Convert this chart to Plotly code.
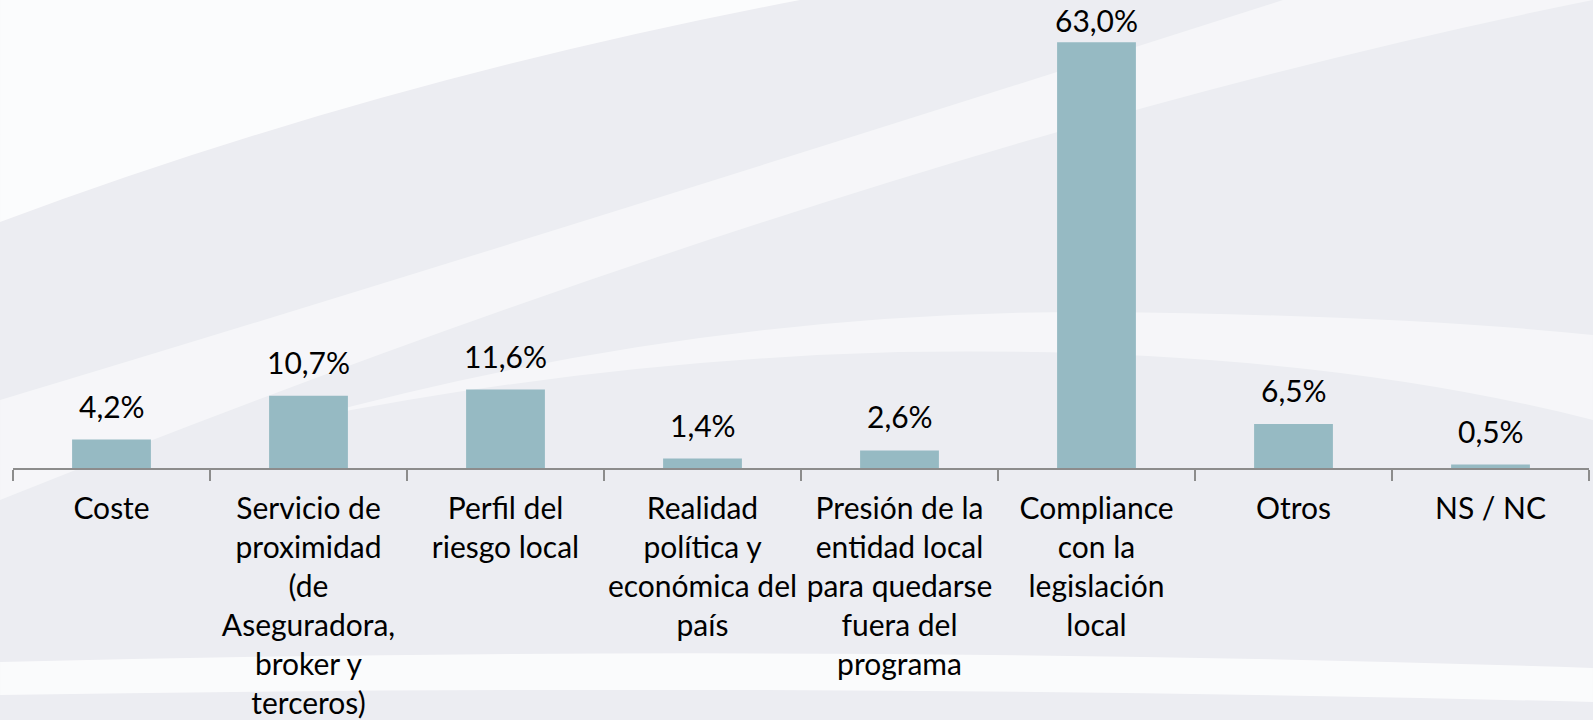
import plotly.graph_objects as go

categories = [
    "Coste",
    "Servicio de<br>proximidad<br>(de<br>Aseguradora,<br>broker y<br>terceros)",
    "Perfil del<br>riesgo local",
    "Realidad<br>política y<br>económica del<br>país",
    "Presión de la<br>entidad local<br>para quedarse<br>fuera del<br>programa",
    "Compliance<br>con la<br>legislación<br>local",
    "Otros",
    "NS / NC",
]
values = [4.2, 10.7, 11.6, 1.4, 2.6, 63.0, 6.5, 0.5]

W, H = 1593, 720
ML, MR, MT, MB = 13, 4, 22, 252
PW, PH = W - ML - MR, H - MT - MB
YMAX = 66

FONT = "Lato"
FSIZE = 30
BAR_COLOR = "#96BAC3"
BG = "#ECEDF2"


def px(x, y):
    """pixel position on the page -> paper coordinates"""
    return (x - ML) / PW, (H - MB - y) / PH


def path(cmds):
    out = []
    for c in cmds:
        if isinstance(c, str):
            out.append(c)
        else:
            xx, yy = px(*c)
            out.append(f"{xx:.4f},{yy:.4f}")
    return " ".join(out)


# soft white swooshes of the slide background
swooshes = [
    (["M", (0, 0), "L", (800, 0), "Q", (380, 80), (0, 222), "Z"], 0.8),
    (["M", (0, 400), "Q", (500, 250), (1283, 0), "L", (1593, 0),
      "Q", (900, 140), (0, 500), "Z"], 0.5),
    (["M", (300, 420), "Q", (700, 310), (1100, 312), "Q", (1400, 315), (1593, 335),
      "L", (1593, 420), "Q", (1300, 345), (900, 352), "Q", (600, 360), (300, 420), "Z"], 0.5),
    (["M", (0, 662), "Q", (800, 642), (1593, 668), "L", (1593, 702),
      "Q", (800, 682), (0, 695), "Z"], 0.75),
]

shapes = [
    dict(type="path", xref="paper", yref="paper", path=path(s),
         fillcolor=f"rgba(255,255,255,{a})", line=dict(width=0), layer="below")
    for s, a in swooshes
]

fig = go.Figure(
    go.Bar(
        x=categories,
        y=values,
        width=0.4,
        marker=dict(color=BAR_COLOR, line=dict(width=0)),
        hoverinfo="skip",
    )
)

# value labels above the bars; the tallest one is tucked closer so it stays on the page
labels = [f"{v:.1f}".replace(".", ",") + "%" for v in values]
annotations = []
for c, v, t in zip(categories, values, labels):
    bar_top_px = MT + PH * (1 - v / YMAX)
    shift = max(0, min(14, bar_top_px - 40))
    annotations.append(
        dict(x=c, y=v, text=t, showarrow=False, xref="x", yref="y",
             yanchor="bottom", yshift=shift,
             font=dict(family=FONT, size=FSIZE, color="#000000"))
    )

fig.update_layout(
    width=W,
    height=H,
    margin=dict(l=ML, r=MR, t=MT, b=MB, pad=0, autoexpand=False),
    paper_bgcolor=BG,
    plot_bgcolor="rgba(0,0,0,0)",
    showlegend=False,
    shapes=shapes,
    annotations=annotations,
    font=dict(family=FONT, size=FSIZE, color="#000000"),
    bargap=0.6,
)

fig.update_xaxes(
    type="category",
    automargin=False,
    tickangle=0,
    ticklabelstandoff=13,
    showline=True,
    linecolor="#8C8C8C",
    linewidth=2,
    ticks="outside",
    tickson="boundaries",
    ticklen=11,
    tickwidth=2,
    tickcolor="#8C8C8C",
    tickfont=dict(family=FONT, size=FSIZE, color="#000000"),
    showgrid=False,
    zeroline=False,
    fixedrange=True,
)
fig.update_yaxes(
    range=[0, YMAX],
    visible=False,
    automargin=False,
    showgrid=False,
    zeroline=False,
    fixedrange=True,
)

fig.write_html("out.html", config=dict(displayModeBar=False))
